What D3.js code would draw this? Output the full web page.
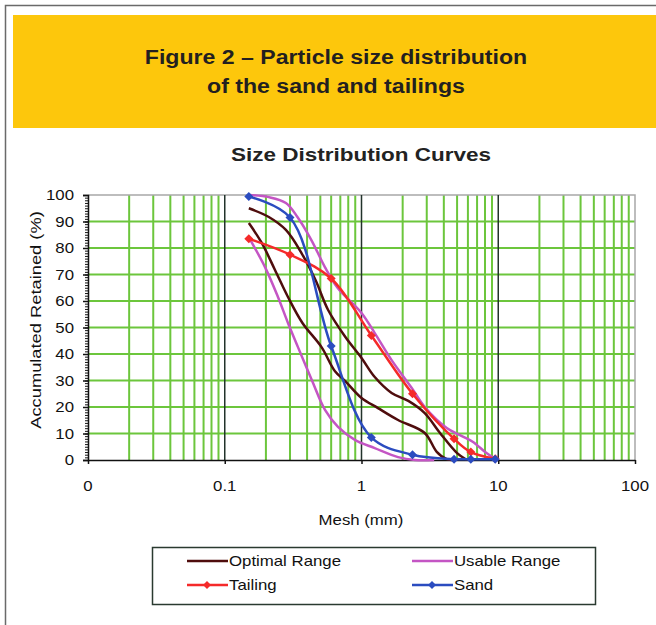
<!DOCTYPE html>
<html>
<head>
<meta charset="utf-8">
<script src="https://cdn.jsdelivr.net/npm/d3@7"></script>
<style>
	body { margin: 0; background: #fff; }
	svg { display: block; font-family: "Liberation Sans", Arial, sans-serif; }
</style>
</head>
<body>
<svg id="svgChart" width="656" height="625"></svg>
<script>
// Chart data (mesh in mm, accumulated retained in %)
var sieveSizes = [0.15, 0.3, 0.6, 1.18, 2.36, 4.75, 6.3, 9.5];
var tailingValues = [83.5, 77.5, 68.5, 47, 25, 8, 3, 0.5];
var sandValues = [99.4, 91.5, 43, 8.5, 2, 0.3, 0.3, 0.3];

var optimalUpper = [[0.15, 95], [0.21, 91.7], [0.28, 86.8], [0.365, 78], [0.46, 68], [0.57, 56.6], [0.76, 46.5],
	[1.0, 38.5], [1.25, 31.3], [1.66, 25.3], [2.2, 22.3], [2.9, 17.7], [3.75, 10.2], [5.0, 2.6], [5.9, 0]];
var optimalLower = [[0.15, 89.4], [0.186, 82], [0.233, 71.7], [0.29, 61.5], [0.37, 51.7], [0.51, 42.6], [0.64, 33.5],
	[0.76, 29.8], [1.0, 23.4], [1.32, 19.6], [1.85, 15.1], [2.9, 10.2], [3.55, 3.1], [4.2, 0.3], [4.75, 0]];
var usableUpper = [[0.15, 100], [0.21, 99.2], [0.28, 97], [0.34, 91.7], [0.43, 83], [0.54, 72.8], [0.67, 64.9],
	[1.0, 55.5], [1.25, 47.9], [1.66, 37.7], [2.33, 27.2], [2.9, 20], [4.2, 12.1], [5.25, 9.4], [6.5, 6.9],
	[8.2, 2.6], [9.5, 0.4]];
var usableLower = [[0.15, 84], [0.197, 72.8], [0.245, 61.5], [0.29, 51.7], [0.343, 42.6], [0.433, 30.2],
	[0.541, 18.9], [0.673, 12.5], [0.9, 7.5], [1.25, 4.5], [1.85, 1.1], [2.46, 0], [3.4, 0]];

var yTicks = [0, 10, 20, 30, 40, 50, 60, 70, 80, 90, 100];
var xTickValues = [0.01, 0.1, 1, 10, 100];
var xTickLabels = ["0", "0.1", "1", "10", "100"];

var legendList = ["Optimal Range", "Usable Range", "Tailing", "Sand"];
var legendColors = ["#4f0d0d", "#c455c4", "#f52a2a", "#2b4cc0"];

var figTitle = ["Figure 2 \u2013 Particle size distribution", "of the sand and tailings"];
var chartTitle = "Size Distribution Curves";
var xTitle = "Mesh (mm)";
var yTitle = "Accumulated Retained (%)";

// Init
var fig = [];
fig.stretch = 1.2;

fig.init = () => {
	let svg = d3.select("#svgChart");

	// Outer frame and banner
	svg.append("rect")
		.attr("x", 5.5).attr("y", 5.5)
		.attr("width", 700).attr("height", 700)
		.style("fill", "none")
		.style("stroke", "#6a6a6a")
		.style("stroke-width", 1.5);

	svg.append("rect")
		.attr("x", 13).attr("y", 15)
		.attr("width", 643).attr("height", 113)
		.style("fill", "#fdc70c");

	figTitle.forEach((t, i) => {
		fig.text(svg, 336, 64 + i * 29, t, 21, "bold", "middle", 1.1)
			.style("fill", "#231f20");
	});

	fig.drawChart(svg);
}

// Stretched text helper
fig.text = (sel, x, y, str, size, weight, anchor, sx) => {
	return sel.append("text")
		.attr("transform", "translate(" + x + "," + y + ") scale(" + (sx || fig.stretch) + ",1)")
		.style("font-size", size + "px")
		.style("font-weight", weight)
		.style("text-anchor", anchor)
		.style("fill", "#111")
		.text(str);
}

fig.drawChart = (svg) => {
	let x = d3.scaleLog().domain([0.01, 100]).range([88, 635]),
		y = d3.scaleLinear().domain([0, 100]).range([460, 195]);

	let g = svg.append("g");

	// Horizontal grid
	g.selectAll(".hgrid")
		.data(yTicks.filter(d => d > 0 && d < 100))
		.enter()
		.append("line")
		.attr("x1", x(0.01)).attr("x2", x(100))
		.attr("y1", d => y(d)).attr("y2", d => y(d))
		.style("stroke", "#6cc63c")
		.style("stroke-width", 2);

	// Vertical minor grid
	let minor = [];
	[0.01, 0.1, 1, 10].forEach(d => {
		for (let k = 2; k <= 9; k++) minor.push(d * k);
	});
	g.selectAll(".vgrid")
		.data(minor)
		.enter()
		.append("line")
		.attr("x1", d => x(d)).attr("x2", d => x(d))
		.attr("y1", y(0)).attr("y2", y(100))
		.style("stroke", "#6cc63c")
		.style("stroke-width", 2);

	// Plot border (top and right)
	g.append("path")
		.attr("d", "M" + x(0.01) + "," + y(100) + "H" + x(100) + "V" + y(0))
		.style("fill", "none")
		.style("stroke", "#a8a8a8")
		.style("stroke-width", 1.5);

	// Decade lines
	g.selectAll(".decade")
		.data([0.1, 1, 10])
		.enter()
		.append("line")
		.attr("x1", d => x(d)).attr("x2", d => x(d))
		.attr("y1", y(0)).attr("y2", y(100))
		.style("stroke", "#22332b")
		.style("stroke-width", 1.5);

	// Axes
	let yAxis = d3.axisLeft(y).tickValues(yTicks).tickSize(5).tickFormat("");
	let ax = g.append("g")
		.attr("transform", "translate(" + x(0.01) + ",0)")
		.call(yAxis);
	ax.selectAll("path, line").style("stroke", "#111").style("stroke-width", 1.5);

	g.append("g")
		.attr("transform", "translate(" + x(0.01) + ",0)")
		.call(d3.axisLeft(y).tickValues(d3.range(0, 101, 1)).tickSize(3).tickFormat(""))
		.call(s => s.select(".domain").remove())
		.selectAll("line").style("stroke", "#111").style("stroke-width", 1);

	let xa = g.append("g")
		.attr("transform", "translate(0," + y(0) + ")")
		.call(d3.axisBottom(x).tickValues(xTickValues).tickSize(4).tickSizeOuter(0).tickFormat(""));
	xa.selectAll("path, line").style("stroke", "#111").style("stroke-width", 1.5);

	// Tick labels
	yTicks.forEach(d => {
		fig.text(g, 74, y(d) + 5, d, 14, "normal", "end");
	});
	xTickValues.forEach((d, i) => {
		fig.text(g, x(d), 491, xTickLabels[i], 14, "normal", "middle");
	});

	// Titles
	fig.text(svg, 361, 161, chartTitle, 18, "bold", "middle", 1.25).style("fill", "#222");
	fig.text(svg, 361, 525, xTitle, 14, "normal", "middle");
	svg.append("text")
		.attr("transform", "translate(41,320) rotate(-90) scale(1.22,1)")
		.style("font-size", "15px")
		.style("text-anchor", "middle")
		.style("fill", "#111")
		.text(yTitle);

	// Curves
	let line = d3.line()
		.x(d => x(d[0]))
		.y(d => y(d[1]))
		.curve(d3.curveCatmullRom);

	let series = [
		{ data: optimalLower, color: legendColors[0], marker: false },
		{ data: optimalUpper, color: legendColors[0], marker: false },
		{ data: usableLower, color: legendColors[1], marker: false },
		{ data: usableUpper, color: legendColors[1], marker: false },
		{ data: sieveSizes.map((s, i) => [s, tailingValues[i]]), color: legendColors[2], marker: true },
		{ data: sieveSizes.map((s, i) => [s, sandValues[i]]), color: legendColors[3], marker: true }
	];

	let diamond = (r) => "M0," + (-r) + "L" + r + ",0L0," + r + "L" + (-r) + ",0Z";

	series.forEach(s => {
		g.append("path")
			.datum(s.data)
			.attr("d", line)
			.style("fill", "none")
			.style("stroke", s.color)
			.style("stroke-width", 2.5)
			.style("stroke-linejoin", "round");

		if (s.marker) {
			g.selectAll(null)
				.data(s.data)
				.enter()
				.append("path")
				.attr("d", diamond(4.5))
				.attr("transform", d => "translate(" + x(d[0]) + "," + y(d[1]) + ")")
				.style("fill", s.color);
		}
	});

	// Legend
	let legend = svg.append("g");
	legend.append("rect")
		.attr("x", 152.5).attr("y", 547.5)
		.attr("width", 443).attr("height", 57)
		.style("fill", "#fff")
		.style("stroke", "#2a3a30")
		.style("stroke-width", 1.5);

	let cols = [187, 412],
		rows = [561, 585];
	legendList.forEach((d, i) => {
		let lx = cols[i % 2],
			ly = rows[Math.floor(i / 2)];
		legend.append("line")
			.attr("x1", lx).attr("x2", lx + 41)
			.attr("y1", ly).attr("y2", ly)
			.style("stroke", legendColors[i])
			.style("stroke-width", 2.5);
		if (i >= 2) {
			legend.append("path")
				.attr("d", diamond(4))
				.attr("transform", "translate(" + (lx + 20) + "," + ly + ")")
				.style("fill", legendColors[i]);
		}
		fig.text(legend, lx + 42, ly + 5, d, 14, "normal", "start");
	});
}

fig.init();
</script>
</body>
</html>
